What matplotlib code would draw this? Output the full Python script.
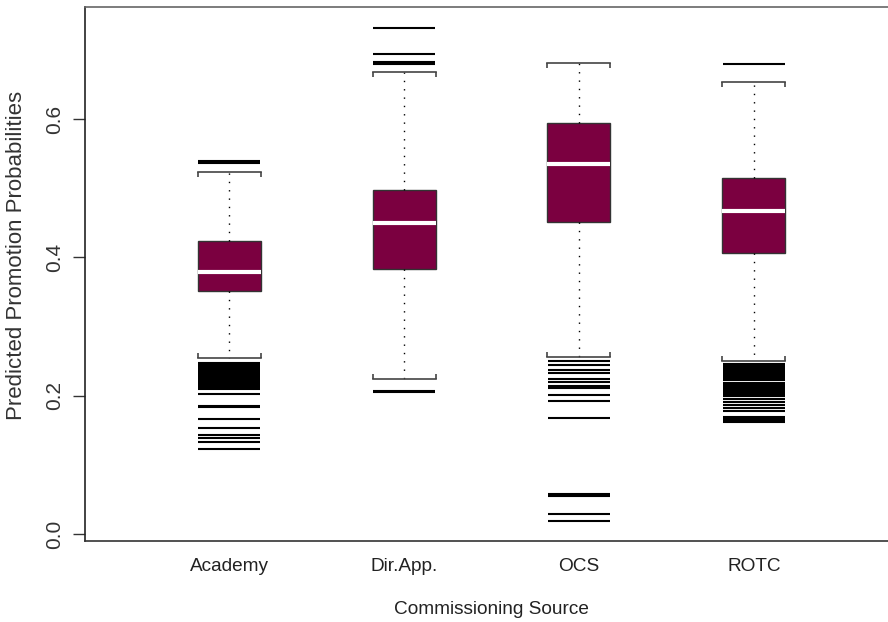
import matplotlib
matplotlib.use("Agg")
import matplotlib.pyplot as plt

plt.rcParams['font.family'] = ['Liberation Sans', 'DejaVu Sans']

SOURCES = ["Academy", "Dir.App.", "OCS", "ROTC"]

# five-number summaries per commissioning source
Q1      = [0.352, 0.383, 0.451, 0.407]
MEDIAN  = [0.379, 0.450, 0.535, 0.467]
Q3      = [0.423, 0.497, 0.594, 0.515]
WHISLO  = [0.254, 0.224, 0.256, 0.251]
WHISHI  = [0.524, 0.668, 0.681, 0.654]

# outlying predictions
OUT_ACADEMY = [0.540, 0.537,
               0.248, 0.246, 0.244, 0.242, 0.240, 0.238, 0.236, 0.234,
               0.232, 0.230, 0.228, 0.226, 0.224, 0.222, 0.220, 0.218,
               0.216, 0.214, 0.212, 0.210,
               0.202, 0.186, 0.184, 0.167, 0.154, 0.143, 0.139, 0.133, 0.123]
OUT_DIRAPP  = [0.732, 0.694, 0.682, 0.679, 0.207, 0.205]
OUT_OCS     = [0.250, 0.244, 0.238, 0.233, 0.224, 0.220, 0.214, 0.212,
               0.201, 0.193, 0.168, 0.058, 0.056, 0.029, 0.019]
OUT_ROTC    = [0.679,
               0.246, 0.244, 0.242, 0.240, 0.238, 0.236, 0.234, 0.232,
               0.230, 0.228, 0.226, 0.2245, 0.2225, 0.219,
               0.2155, 0.2135, 0.2115, 0.2095, 0.2075, 0.2055, 0.2035,
               0.2015, 0.1995, 0.196, 0.1915, 0.187, 0.1825, 0.178,
               0.170, 0.168, 0.166, 0.164, 0.162]
OUTLIERS = [OUT_ACADEMY, OUT_DIRAPP, OUT_OCS, OUT_ROTC]

BOX_COLOR = '#7b0040'
WIDTH = 0.36

fig = plt.figure(figsize=(8.88, 6.22), dpi=100)
ax = fig.add_axes([85 / 888, 81 / 622, (898 - 85) / 888, (541 - 6.7) / 622])
ax.set_xlim(0.177, 4.823)
ax.set_ylim(-0.0097, 0.7622)

positions = list(range(1, len(SOURCES) + 1))
px_per_unit = ax.transData.transform((1, 0))[0] - ax.transData.transform((0, 0))[0]
flier_len = WIDTH * px_per_unit * 72 / fig.dpi

stats = []
for i, name in enumerate(SOURCES):
    stats.append(dict(label=name, med=MEDIAN[i], q1=Q1[i], q3=Q3[i],
                      whislo=WHISLO[i], whishi=WHISHI[i], fliers=OUTLIERS[i]))

res = ax.bxp(stats, positions=positions, widths=WIDTH, capwidths=WIDTH,
             patch_artist=True,
             boxprops=dict(facecolor=BOX_COLOR, edgecolor='#333333', linewidth=1),
             medianprops=dict(color='white', linewidth=3, solid_capstyle='butt'),
             whiskerprops=dict(color='black', linestyle=(0, (1, 5)), linewidth=1),
             capprops=dict(color='#444444', linewidth=1.2),
             flierprops=dict(marker='_', markersize=flier_len,
                             markeredgecolor='black', markeredgewidth=1.5))
for fl in res['fliers']:
    fl.set_antialiased(False)

# small end ticks on the staples, pointing toward the box
tick_h = 5 / (ax.transData.transform((0, 1))[1] - ax.transData.transform((0, 0))[1])
for k, cap in enumerate(res['caps']):
    xs = cap.get_xdata()
    y = cap.get_ydata()[0]
    sign = 1 if k % 2 == 0 else -1
    ax.vlines([xs[0], xs[-1]], y, y + sign * tick_h, color='#444444', linewidth=1.2)

ax.spines['left'].set_color('#222222')
ax.spines['bottom'].set_color('#333333')
ax.spines['top'].set_color('#666666')
ax.spines['right'].set_color('#666666')
for side in ax.spines:
    ax.spines[side].set_linewidth(1.2)

ax.set_yticks([0.0, 0.2, 0.4, 0.6])
ax.set_yticklabels(['0.0', '0.2', '0.4', '0.6'], rotation=90, va='center')
ax.tick_params(axis='y', length=9, width=1, color='#333333', pad=6,
               labelsize=15, labelcolor='#333333')
ax.tick_params(axis='x', length=0, pad=12, labelsize=13.7, labelcolor='#222222')
ax.set_xticks(positions)
ax.set_xticklabels(SOURCES)

ax.set_xlabel("Commissioning Source", fontsize=13.7, color='#222222', labelpad=19)
ax.set_ylabel("Predicted Promotion Probabilities", fontsize=16, color='#333333')
ax.yaxis.set_label_coords(-0.071, 0.535)

fig.savefig("out.png", dpi=100)
